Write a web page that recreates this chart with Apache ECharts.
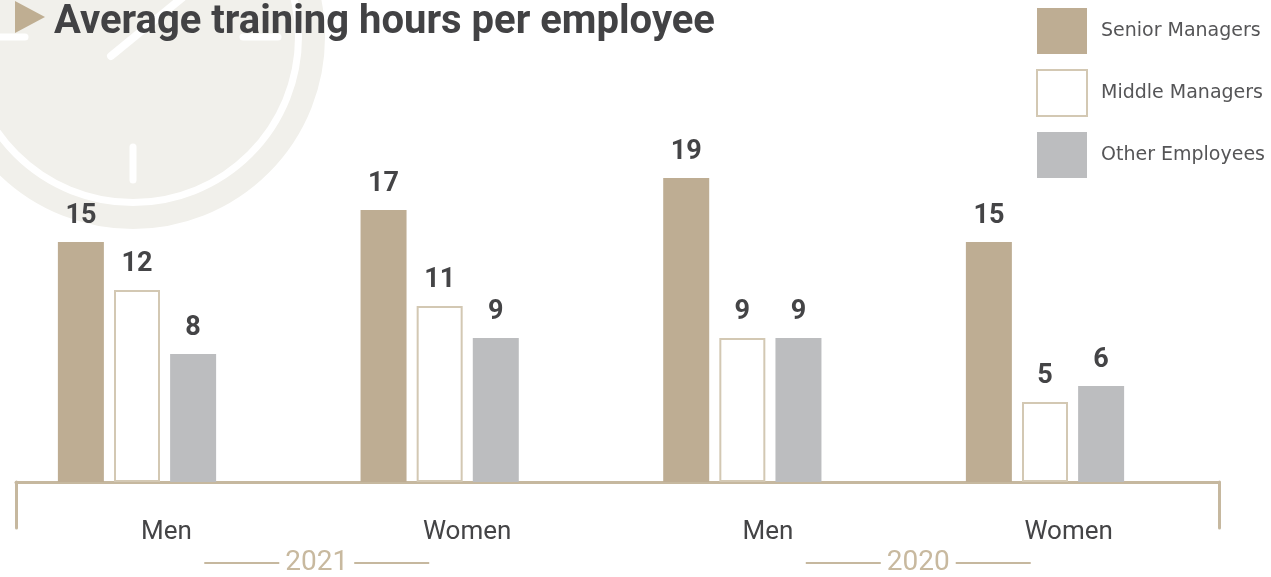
<!DOCTYPE html>
<html>
<head>
<meta charset="utf-8">
<title>Average training hours per employee</title>
<script src="https://cdn.jsdelivr.net/npm/echarts@6/dist/echarts.min.js"></script>
<style>
  html, body { margin: 0; padding: 0; background: #ffffff; }
  #chart { width: 1271px; height: 577px; }
</style>
</head>
<body>
<div id="chart"></div>
<script>
// Groups along the axis (gender within year) and the year bands under them
const categories = ['Men', 'Women', 'Men', 'Women'];
const years = ['2021', '2020'];
const seriesNames = ['Senior Managers', 'Middle Managers', 'Other Employees'];

// Average training hours per employee
const seniorManagers = [15, 17, 19, 15];
const middleManagers = [12, 11, 9, 5];
const otherEmployees = [8, 9, 9, 6];

const BEIGE = '#bead93';
const BEIGE_LINE = '#c6b89f';
const GREY = '#bcbdbf';
const TEXT = '#444446';
const FONT = 'Roboto, "Noto Sans", sans-serif';

const chart = echarts.init(document.getElementById('chart'), null, { renderer: 'canvas' });

const CLOCK = '#f1f0eb';
const cx = 133, cy = 37;

const valueLabel = {
  show: true,
  position: 'top',
  distance: 12,
  fontFamily: FONT,
  fontWeight: 'bold',
  fontSize: 27,
  color: TEXT
};

chart.setOption({
  backgroundColor: '#ffffff',
  animation: false,
  title: {
    text: 'Average training hours per employee',
    left: 54,
    top: 3,
    padding: 0,
    textStyle: {
      fontFamily: FONT,
      fontWeight: 'bold',
      fontSize: 40,
      color: '#424244'
    }
  },
  graphic: [
    // faint clock face behind the title
    { type: 'circle', z: -10, silent: true, shape: { cx: cx, cy: cy, r: 162 }, style: { fill: CLOCK } },
    { type: 'circle', z: -10, silent: true, shape: { cx: cx, cy: cy, r: 180.5 }, style: { fill: null, stroke: CLOCK, lineWidth: 23 } },
    { type: 'line', z: -9, silent: true, shape: { x1: 0, y1: cy, x2: 25, y2: cy }, style: { stroke: '#ffffff', lineWidth: 7, lineCap: 'round' } },
    { type: 'line', z: -9, silent: true, shape: { x1: 243, y1: cy, x2: 278, y2: cy }, style: { stroke: '#ffffff', lineWidth: 7, lineCap: 'round' } },
    { type: 'line', z: -9, silent: true, shape: { x1: cx, y1: 147, x2: cx, y2: 180 }, style: { stroke: '#ffffff', lineWidth: 7, lineCap: 'round' } },
    { type: 'line', z: -9, silent: true, shape: { x1: 111, y1: 56, x2: 182, y2: -2 }, style: { stroke: '#ffffff', lineWidth: 8, lineCap: 'round' } },
    // title marker
    { type: 'polygon', z: 10, silent: true, shape: { points: [[15, 1], [45, 17], [15, 33]] }, style: { fill: '#bfae92' } }
  ],
  legend: {
    orient: 'vertical',
    left: 1036,
    top: 8,
    padding: 0,
    itemWidth: 50,
    itemHeight: 46,
    itemGap: 15,
    icon: 'rect',
    data: seriesNames,
    textStyle: {
      fontFamily: '"DejaVu Sans", sans-serif',
      fontSize: 19,
      color: '#555557',
      padding: [0, 0, 0, 9]
    }
  },
  grid: [
    // plotting area for the bars: group centres sit on the category points
    { left: 137, right: 226, top: 2, bottom: 95 },
    // bracket-shaped axis with the category and year labels
    { left: 16, right: 52, top: 482, height: 48 }
  ],
  xAxis: [
    {
      gridIndex: 0,
      type: 'category',
      boundaryGap: false,
      data: categories,
      show: false
    },
    {
      gridIndex: 1,
      type: 'category',
      position: 'top',
      offset: 0,
      data: categories,
      axisLine: { show: true, onZero: false, lineStyle: { color: BEIGE_LINE, width: 3 } },
      axisTick: { show: false },
      axisLabel: {
        inside: true,
        margin: 37,
        fontFamily: FONT,
        fontSize: 26,
        color: TEXT
      }
    },
    {
      gridIndex: 1,
      type: 'category',
      position: 'bottom',
      offset: 0,
      data: years,
      axisLine: { show: false, onZero: false },
      axisTick: { show: false },
      axisLabel: {
        margin: 21,
        formatter: function (v) { return '{l|}{y|' + v + '}{l|}'; },
        rich: {
          l: { width: 75, height: 2, backgroundColor: BEIGE_LINE },
          y: { fontFamily: FONT, fontSize: 28, color: '#c8b99f', padding: [0, 6, 0, 6] }
        }
      }
    }
  ],
  yAxis: [
    { gridIndex: 0, type: 'value', min: 0, max: 30, show: false },
    {
      gridIndex: 1, type: 'value', position: 'left', min: 0, max: 1,
      axisLine: { show: true, onZero: false, lineStyle: { color: BEIGE_LINE, width: 3 } },
      axisTick: { show: false }, axisLabel: { show: false }, splitLine: { show: false }
    },
    {
      gridIndex: 1, type: 'value', position: 'right', min: 0, max: 1,
      axisLine: { show: true, onZero: false, lineStyle: { color: BEIGE_LINE, width: 3 } },
      axisTick: { show: false }, axisLabel: { show: false }, splitLine: { show: false }
    }
  ],
  series: [
    {
      name: seriesNames[0],
      type: 'bar',
      xAxisIndex: 0, yAxisIndex: 0,
      barWidth: 46,
      barGap: '22%',
      data: seniorManagers,
      itemStyle: { color: BEIGE },
      label: valueLabel
    },
    {
      name: seriesNames[1],
      type: 'bar',
      xAxisIndex: 0, yAxisIndex: 0,
      barWidth: 46,
      barGap: '22%',
      data: middleManagers,
      itemStyle: { color: '#ffffff', borderColor: '#d3c8b3', borderWidth: 2 },
      label: valueLabel
    },
    {
      name: seriesNames[2],
      type: 'bar',
      xAxisIndex: 0, yAxisIndex: 0,
      barWidth: 46,
      barGap: '22%',
      data: otherEmployees,
      itemStyle: { color: GREY },
      label: valueLabel
    }
  ]
});
</script>
</body>
</html>
